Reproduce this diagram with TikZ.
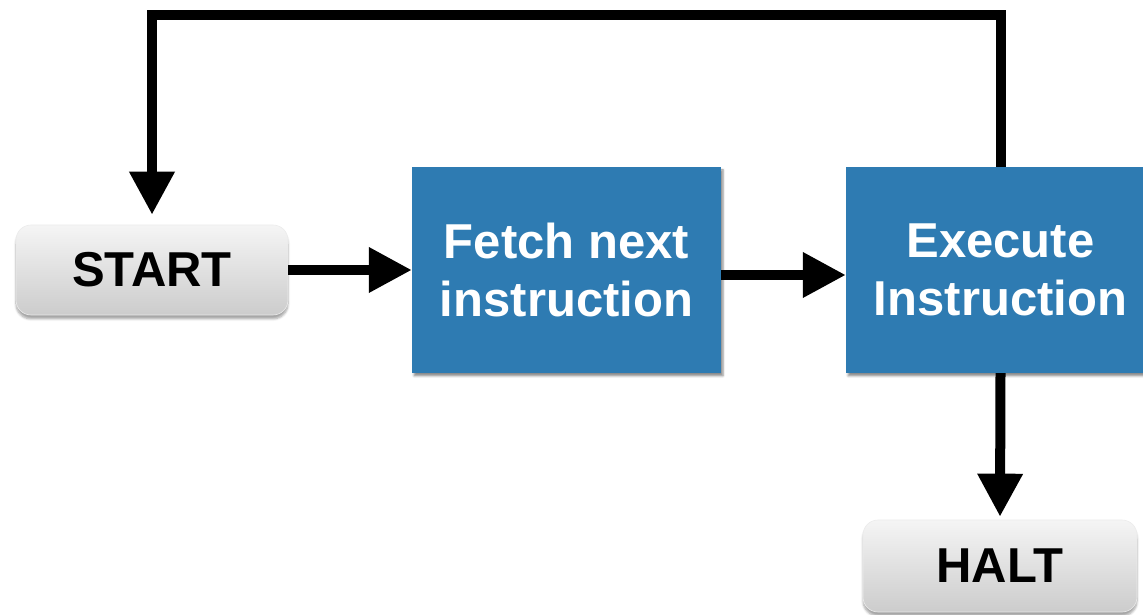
\documentclass[tikz,border=0pt]{standalone}
\usepackage{fontspec}
\setmainfont{Liberation Sans}
\usetikzlibrary{arrows.meta,shadows.blur}
\definecolor{stepblue}{HTML}{2E7BB2}
\tikzset{
  endbox/.style={rounded corners=15pt, top color=white!96!black, bottom color=black!20,
    draw=black!8, line width=0.6pt,
    blur shadow={shadow xshift=0pt, shadow yshift=-4pt, shadow blur steps=6, shadow opacity=35},
    font=\fontsize{49}{58}\selectfont\bfseries, text=black, inner sep=0pt},
  stepbox/.style={fill=stepblue, align=center, inner sep=0pt,
    blur shadow={shadow xshift=2pt, shadow yshift=-3pt, shadow blur steps=5, shadow opacity=45},
    font=\fontsize{49}{58}\selectfont\bfseries, text=white},
  flow/.style={line width=10pt, line join=miter, -{Triangle[length=43pt,width=43pt]}}
}
\begin{document}
\begin{tikzpicture}[x=1pt,y=1pt]
\useasboundingbox (0,0) rectangle (1143,615);
% terminal boxes
\node[endbox, minimum width=272pt, minimum height=90pt] (start) at (152,345) {START};
\node[endbox, minimum width=274pt, minimum height=92pt] (halt) at (1000,49) {HALT};
% processing steps
\node[stepbox, minimum width=309pt, minimum height=206pt] (fetch) at (566.5,345) {Fetch next\\instruction};
\node[stepbox, minimum width=309pt, minimum height=206pt] (exec) at (1000.5,345) {Execute\\Instruction};
% connectors
\coordinate (loop) at (0,600);
\draw[flow] (start.east) -- (fetch.west);
\draw[flow] ([yshift=-5pt]fetch.east) -- ([yshift=-5pt]exec.west);
\draw[flow] (exec.south) -- ([yshift=3pt]halt.north);
\draw[flow] (exec.north) -- (exec.north |- loop) -| ([yshift=10pt]start.north);
\end{tikzpicture}
\end{document}
